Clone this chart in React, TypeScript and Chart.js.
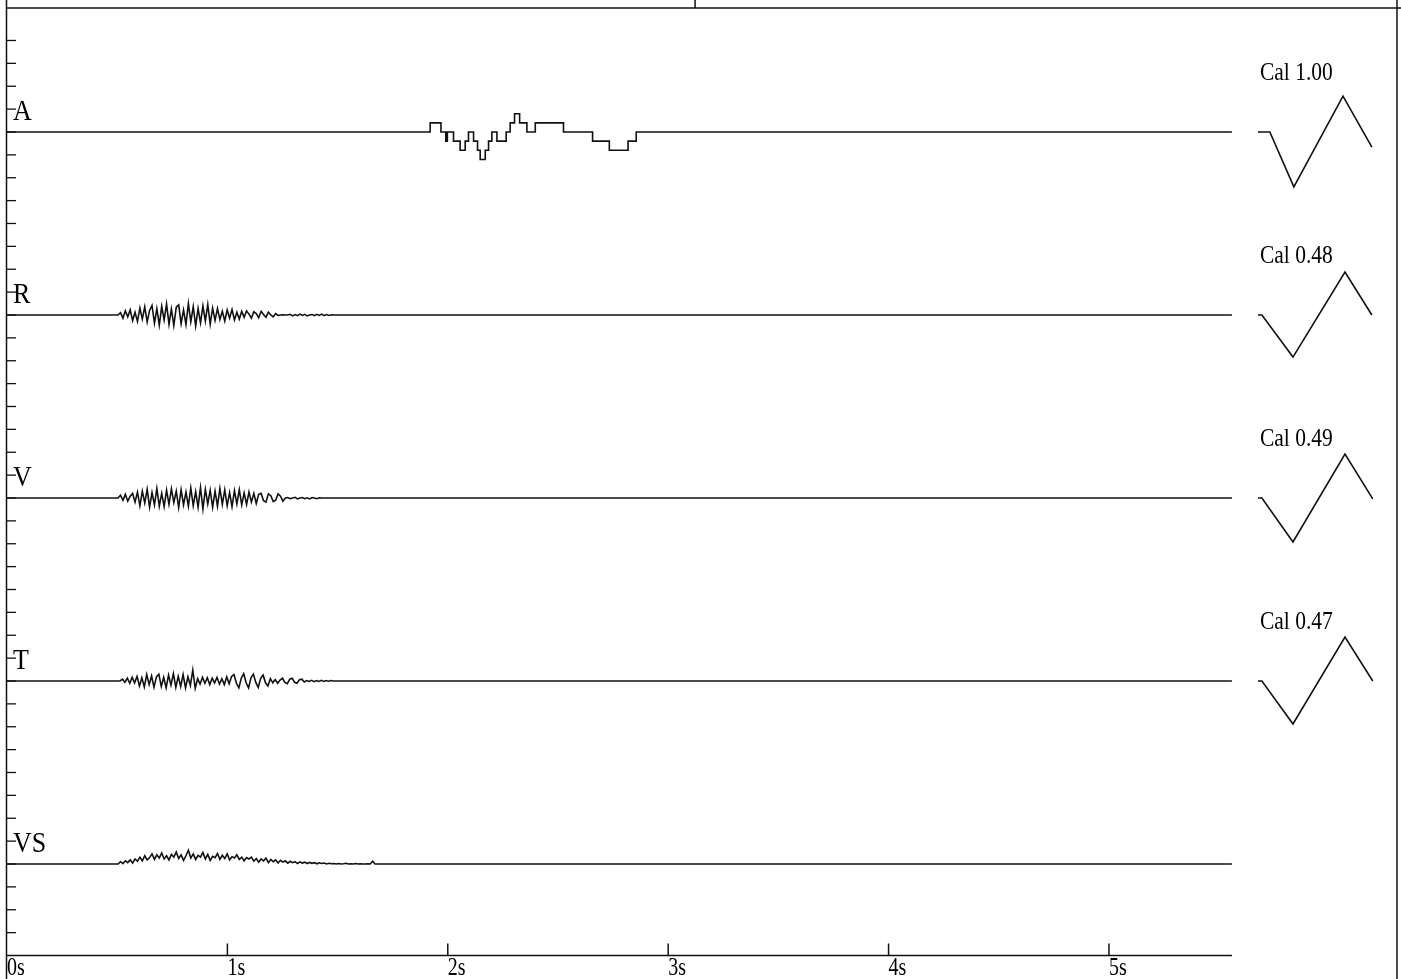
import React, { useEffect, useRef } from "react";
import { Chart, registerables } from "chart.js";

Chart.register(...registerables);

const W = 1401;
const H = 979;
const SERIF = '"Liberation Serif", "Times New Roman", serif';

// Time axis (seconds)
const timeTicks = [0, 1, 2, 3, 4, 5];
const timeTickLabels = ["0s", "1s", "2s", "3s", "4s", "5s"];
const traceEnd = 5.558;
const xMax = 6.307;
const panelSeparatorTime = 3.122;

// Vertical scale in divisions (one minor tick per division)
const yMax = 41.42;
const divisionTicks = [1, 2, 3, 4, 5, 6, 7, 8, 9, 10, 11, 12, 13, 14, 15, 16, 17, 18, 19, 20,
  21, 22, 23, 24, 25, 26, 27, 28, 29, 30, 31, 32, 33, 34, 35, 36, 37, 38, 39, 40];

const channelNames = ["A", "R", "V", "T", "VS"];
const channelBaselines = [36, 28, 20, 12, 4];

// Channel A: quantised step record (times in s, levels in counts)
const aStepSize = 0.4;
const aStepTimes = [0, 1.920, 1.969, 1.991, 1.998, 2.026, 2.056, 2.079, 2.094, 2.117, 2.135, 2.147,
  2.170, 2.185, 2.200, 2.223, 2.265, 2.283, 2.303, 2.326, 2.359, 2.397, 2.525, 2.657, 2.733,
  2.818, 2.855, 5.558];
const aStepLevels = [0, 1, 0, -1, 0, -1, -2, -1, 0, -1, -2, -3,
  -2, -1, 0, -1, 0, 1, 2, 1, 0, 1, 0, -1, -2,
  -1, 0, 0];

// Channels R, V, T, VS: sampled bursts (divisions)
const sampleStep = 0.011;

const rStart = 0.504;
const rBurst = [
  0, 0.10, -0.14, 0.18, -0.08, 0.22, -0.24, 0.12, -0.28, 0.30,
  -0.18, 0.36, -0.30, 0.20, 0.42, -0.36, 0.28, -0.44, 0.38, -0.22,
  0.48, -0.40, 0.26, -0.46, 0.34, 0.44, -0.38, 0.22, -0.42, 0.50,
  -0.30, 0.36, -0.48, 0.28, -0.34, 0.40, -0.26, 0.46, -0.40, 0.30,
  -0.24, 0.28, -0.20, 0.16, -0.26, 0.22, -0.14, 0.24, -0.22, 0.12,
  -0.18, 0.16, -0.10, 0.18, 0.04, -0.14, 0.14, 0.06, -0.12, 0.16,
  0.02, -0.10, 0.12, 0.00, -0.08, 0.06, -0.02, 0.00, 0.01, 0.00,
  0.00, 0.03, -0.04, 0.02, -0.03, 0.04, -0.02, 0.03, -0.04, 0.00,
  0.02, -0.03, 0.03, -0.02, 0.04, -0.03, 0.02, -0.02, 0.01, 0.00, 0.00,
];

const vStart = 0.504;
const vBurst = [
  0, 0.12, -0.10, 0.16, -0.14, 0.08, 0.20, -0.18, 0.26, -0.34,
  0.30, -0.22, 0.38, -0.40, 0.24, -0.30, 0.42, -0.36, 0.20, -0.38,
  0.34, -0.28, 0.40, -0.20, 0.30, -0.42, 0.36, -0.30, 0.26, -0.36,
  0.44, -0.34, 0.28, -0.40, 0.46, -0.48, 0.38, -0.26, 0.34, -0.40,
  0.30, -0.36, 0.42, -0.28, 0.36, -0.34, 0.24, -0.38, 0.32, -0.26,
  0.36, -0.30, 0.22, -0.28, 0.26, -0.18, 0.20, -0.24, 0.16, 0.20,
  -0.12, -0.18, 0.18, 0.10, -0.16, -0.10, 0.18, 0.08, -0.14, 0.00,
  0.02, -0.03, 0.00, 0.03, -0.04, 0.00, 0.02, -0.03, 0.01, -0.04,
  0.02, 0.00, -0.03, 0.01, 0.00,
];

const tStart = 0.513;
const tBurst = [
  0, 0.08, -0.06, 0.12, -0.10, 0.16, -0.08, 0.20, -0.22, 0.14,
  -0.26, 0.28, -0.16, 0.22, -0.28, 0.18, 0.30, -0.24, 0.16, -0.30,
  0.26, -0.18, 0.32, -0.28, 0.20, -0.24, 0.28, -0.30, 0.18, -0.20,
  0.48, -0.32, 0.10, -0.14, 0.16, -0.10, 0.14, -0.16, 0.12, -0.08,
  0.16, -0.14, 0.10, -0.16, 0.18, -0.12, 0.20, 0.28, -0.10, -0.30,
  0.12, 0.32, -0.08, -0.30, 0.14, 0.30, -0.06, -0.28, 0.12, 0.26,
  -0.08, -0.22, 0.10, -0.08, 0.06, -0.10, 0.04, 0.12, -0.06, -0.12,
  0.08, 0.12, -0.06, -0.10, 0.06, 0.08, -0.04, 0.02, -0.02, 0.03,
  -0.03, 0.02, -0.02, 0.03, -0.02, 0.02, -0.01, 0.02, 0.00, 0.00,
];

const vsStart = 0.504;
const vsBurst = [
  0, 0.10, 0.02, 0.14, 0.06, 0.18, 0.04, 0.22, 0.12, 0.30,
  0.14, 0.36, 0.18, 0.28, 0.44, 0.20, 0.40, 0.26, 0.48, 0.22,
  0.36, 0.18, 0.42, 0.30, 0.52, 0.24, 0.40, 0.16, 0.36, 0.60,
  0.26, 0.44, 0.20, 0.38, 0.30, 0.50, 0.22, 0.42, 0.16, 0.34,
  0.28, 0.46, 0.20, 0.38, 0.24, 0.44, 0.18, 0.32, 0.26, 0.40,
  0.20, 0.30, 0.14, 0.28, 0.22, 0.30, 0.12, 0.24, 0.08, 0.22,
  0.14, 0.26, 0.06, 0.20, 0.10, 0.18, 0.04, 0.16, 0.08, 0.14,
  0.04, 0.12, 0.06, 0.10, 0.02, 0.09, 0.04, 0.08, 0.02, 0.07,
  0.03, 0.06, 0.01, 0.05, 0.02, 0.04, 0.00, 0.03, 0.01, 0.02,
  0.00, 0.02, 0.00, 0.01, 0.03, 0.00, 0.01, 0.00, 0.02, 0.00,
  0.01, 0.00, 0.00, 0.01, 0.00, 0.12, 0.00,
];

// Calibration pulses (times in s, deflection in divisions)
const calLabels = ["Cal 1.00", "Cal 0.48", "Cal 0.49", "Cal 0.47"];
const calLabelTime = 5.685;
const calLabelRise = 2.56;
const calTimesA = [5.676, 5.730, 5.839, 6.062, 6.193];
const calValuesA = [0, 0, -2.40, 1.57, -0.66];
const calTimesR = [5.676, 5.694, 5.835, 6.071, 6.193];
const calValuesR = [0, 0, -1.84, 1.88, 0];
const calTimesV = [5.676, 5.694, 5.835, 6.071, 6.197];
const calValuesV = [0, 0, -1.92, 1.92, -0.04];
const calTimesT = [5.676, 5.694, 5.835, 6.071, 6.197];
const calValuesT = [0, 0, -1.88, 1.92, 0];

type Pt = { x: number; y: number };

function burstTrace(base: number, start: number, values: number[]): Pt[] {
  const pts: Pt[] = [{ x: 0, y: base }];
  values.forEach((v, i) => pts.push({ x: start + i * sampleStep, y: base + v }));
  pts.push({ x: traceEnd, y: base });
  return pts;
}

function pairTrace(base: number, times: number[], values: number[]): Pt[] {
  return times.map((t, i) => ({ x: t, y: base + values[i] }));
}

const lineStyle = {
  borderColor: "#111",
  borderWidth: 1.6,
  pointRadius: 0,
  tension: 0,
  fill: false,
};

// Tall, narrow serif lettering as on the paper record
function tallText(ctx: CanvasRenderingContext2D, s: string, x: number, y: number, stretch: number) {
  ctx.save();
  ctx.translate(x, y);
  ctx.scale(1, stretch);
  ctx.fillText(s, 0, 0);
  ctx.restore();
}

const framePlugin = {
  id: "seismoFrame",
  afterDraw(chart: any) {
    const { ctx, scales } = chart;
    const xs = scales.x;
    const ys = scales.y;
    const x0 = xs.getPixelForValue(0);
    const y0 = ys.getPixelForValue(0);
    const yTop = ys.getPixelForValue(yMax);
    const xRight = xs.getPixelForValue(xMax);
    const seg = (a: number, b: number, c: number, d: number) => {
      ctx.beginPath();
      ctx.moveTo(a, b);
      ctx.lineTo(c, d);
      ctx.stroke();
    };
    ctx.save();
    ctx.strokeStyle = "#111";
    ctx.lineWidth = 1.5;
    // frame
    seg(x0 - 0.5, 0, x0 - 0.5, H);
    seg(x0, yTop, W, yTop);
    seg(xRight, 0, xRight, H);
    const sepX = xs.getPixelForValue(panelSeparatorTime);
    seg(sepX, 0, sepX, yTop);
    // time axis
    seg(x0, y0, xs.getPixelForValue(traceEnd), y0);
    timeTicks.forEach((t) => {
      if (t === 0) return;
      const px = xs.getPixelForValue(t);
      seg(px, y0, px, y0 - 12);
    });
    // division ticks on the left
    ctx.lineWidth = 1.3;
    divisionTicks.forEach((d) => {
      const py = ys.getPixelForValue(d);
      seg(x0, py, x0 + 9, py);
    });
    ctx.fillStyle = "#000";
    ctx.textAlign = "left";
    ctx.textBaseline = "middle";
    // time labels
    ctx.font = `20px ${SERIF}`;
    timeTicks.forEach((t, i) => {
      tallText(ctx, timeTickLabels[i], xs.getPixelForValue(t), y0 + 13, 1.3);
    });
    // channel names
    ctx.font = `26px ${SERIF}`;
    channelNames.forEach((name, i) => {
      tallText(ctx, name, x0 + 6, ys.getPixelForValue(channelBaselines[i] + 1) + 3, 1.12);
    });
    // calibration labels
    ctx.font = `21.5px ${SERIF}`;
    calLabels.forEach((label, i) => {
      tallText(
        ctx,
        label,
        xs.getPixelForValue(calLabelTime),
        ys.getPixelForValue(channelBaselines[i] + calLabelRise),
        1.22
      );
    });
    ctx.restore();
  },
};

export default function App() {
  const ref = useRef<HTMLCanvasElement | null>(null);

  useEffect(() => {
    document.body.style.margin = "0";
    const canvas = ref.current;
    if (!canvas) return;

    const aTrace: Pt[] = aStepTimes.map((t, i) => ({
      x: t,
      y: channelBaselines[0] + aStepLevels[i] * aStepSize,
    }));

    const datasets: any[] = [
      { ...lineStyle, label: "A", data: aTrace, stepped: "before" },
      { ...lineStyle, label: "R", data: burstTrace(channelBaselines[1], rStart, rBurst) },
      { ...lineStyle, label: "V", data: burstTrace(channelBaselines[2], vStart, vBurst) },
      { ...lineStyle, label: "T", data: burstTrace(channelBaselines[3], tStart, tBurst) },
      { ...lineStyle, label: "VS", data: burstTrace(channelBaselines[4], vsStart, vsBurst) },
      { ...lineStyle, label: "Cal A", data: pairTrace(channelBaselines[0], calTimesA, calValuesA) },
      { ...lineStyle, label: "Cal R", data: pairTrace(channelBaselines[1], calTimesR, calValuesR) },
      { ...lineStyle, label: "Cal V", data: pairTrace(channelBaselines[2], calTimesV, calValuesV) },
      { ...lineStyle, label: "Cal T", data: pairTrace(channelBaselines[3], calTimesT, calValuesT) },
    ];

    const chart = new Chart(canvas, {
      type: "line",
      data: { datasets },
      plugins: [framePlugin],
      options: {
        animation: false,
        responsive: false,
        devicePixelRatio: 1,
        layout: { padding: { left: 7, right: 4, top: 8, bottom: 23.5 } },
        plugins: {
          legend: { display: false },
          tooltip: { enabled: false },
        },
        scales: {
          x: { type: "linear", display: false, min: 0, max: xMax },
          y: { type: "linear", display: false, min: 0, max: yMax },
        },
      } as any,
    });

    return () => chart.destroy();
  }, []);

  return (
    <div style={{ position: "absolute", left: 0, top: 0, width: W, height: H, background: "#fff" }}>
      <canvas ref={ref} width={W} height={H} style={{ display: "block" }} />
    </div>
  );
}
